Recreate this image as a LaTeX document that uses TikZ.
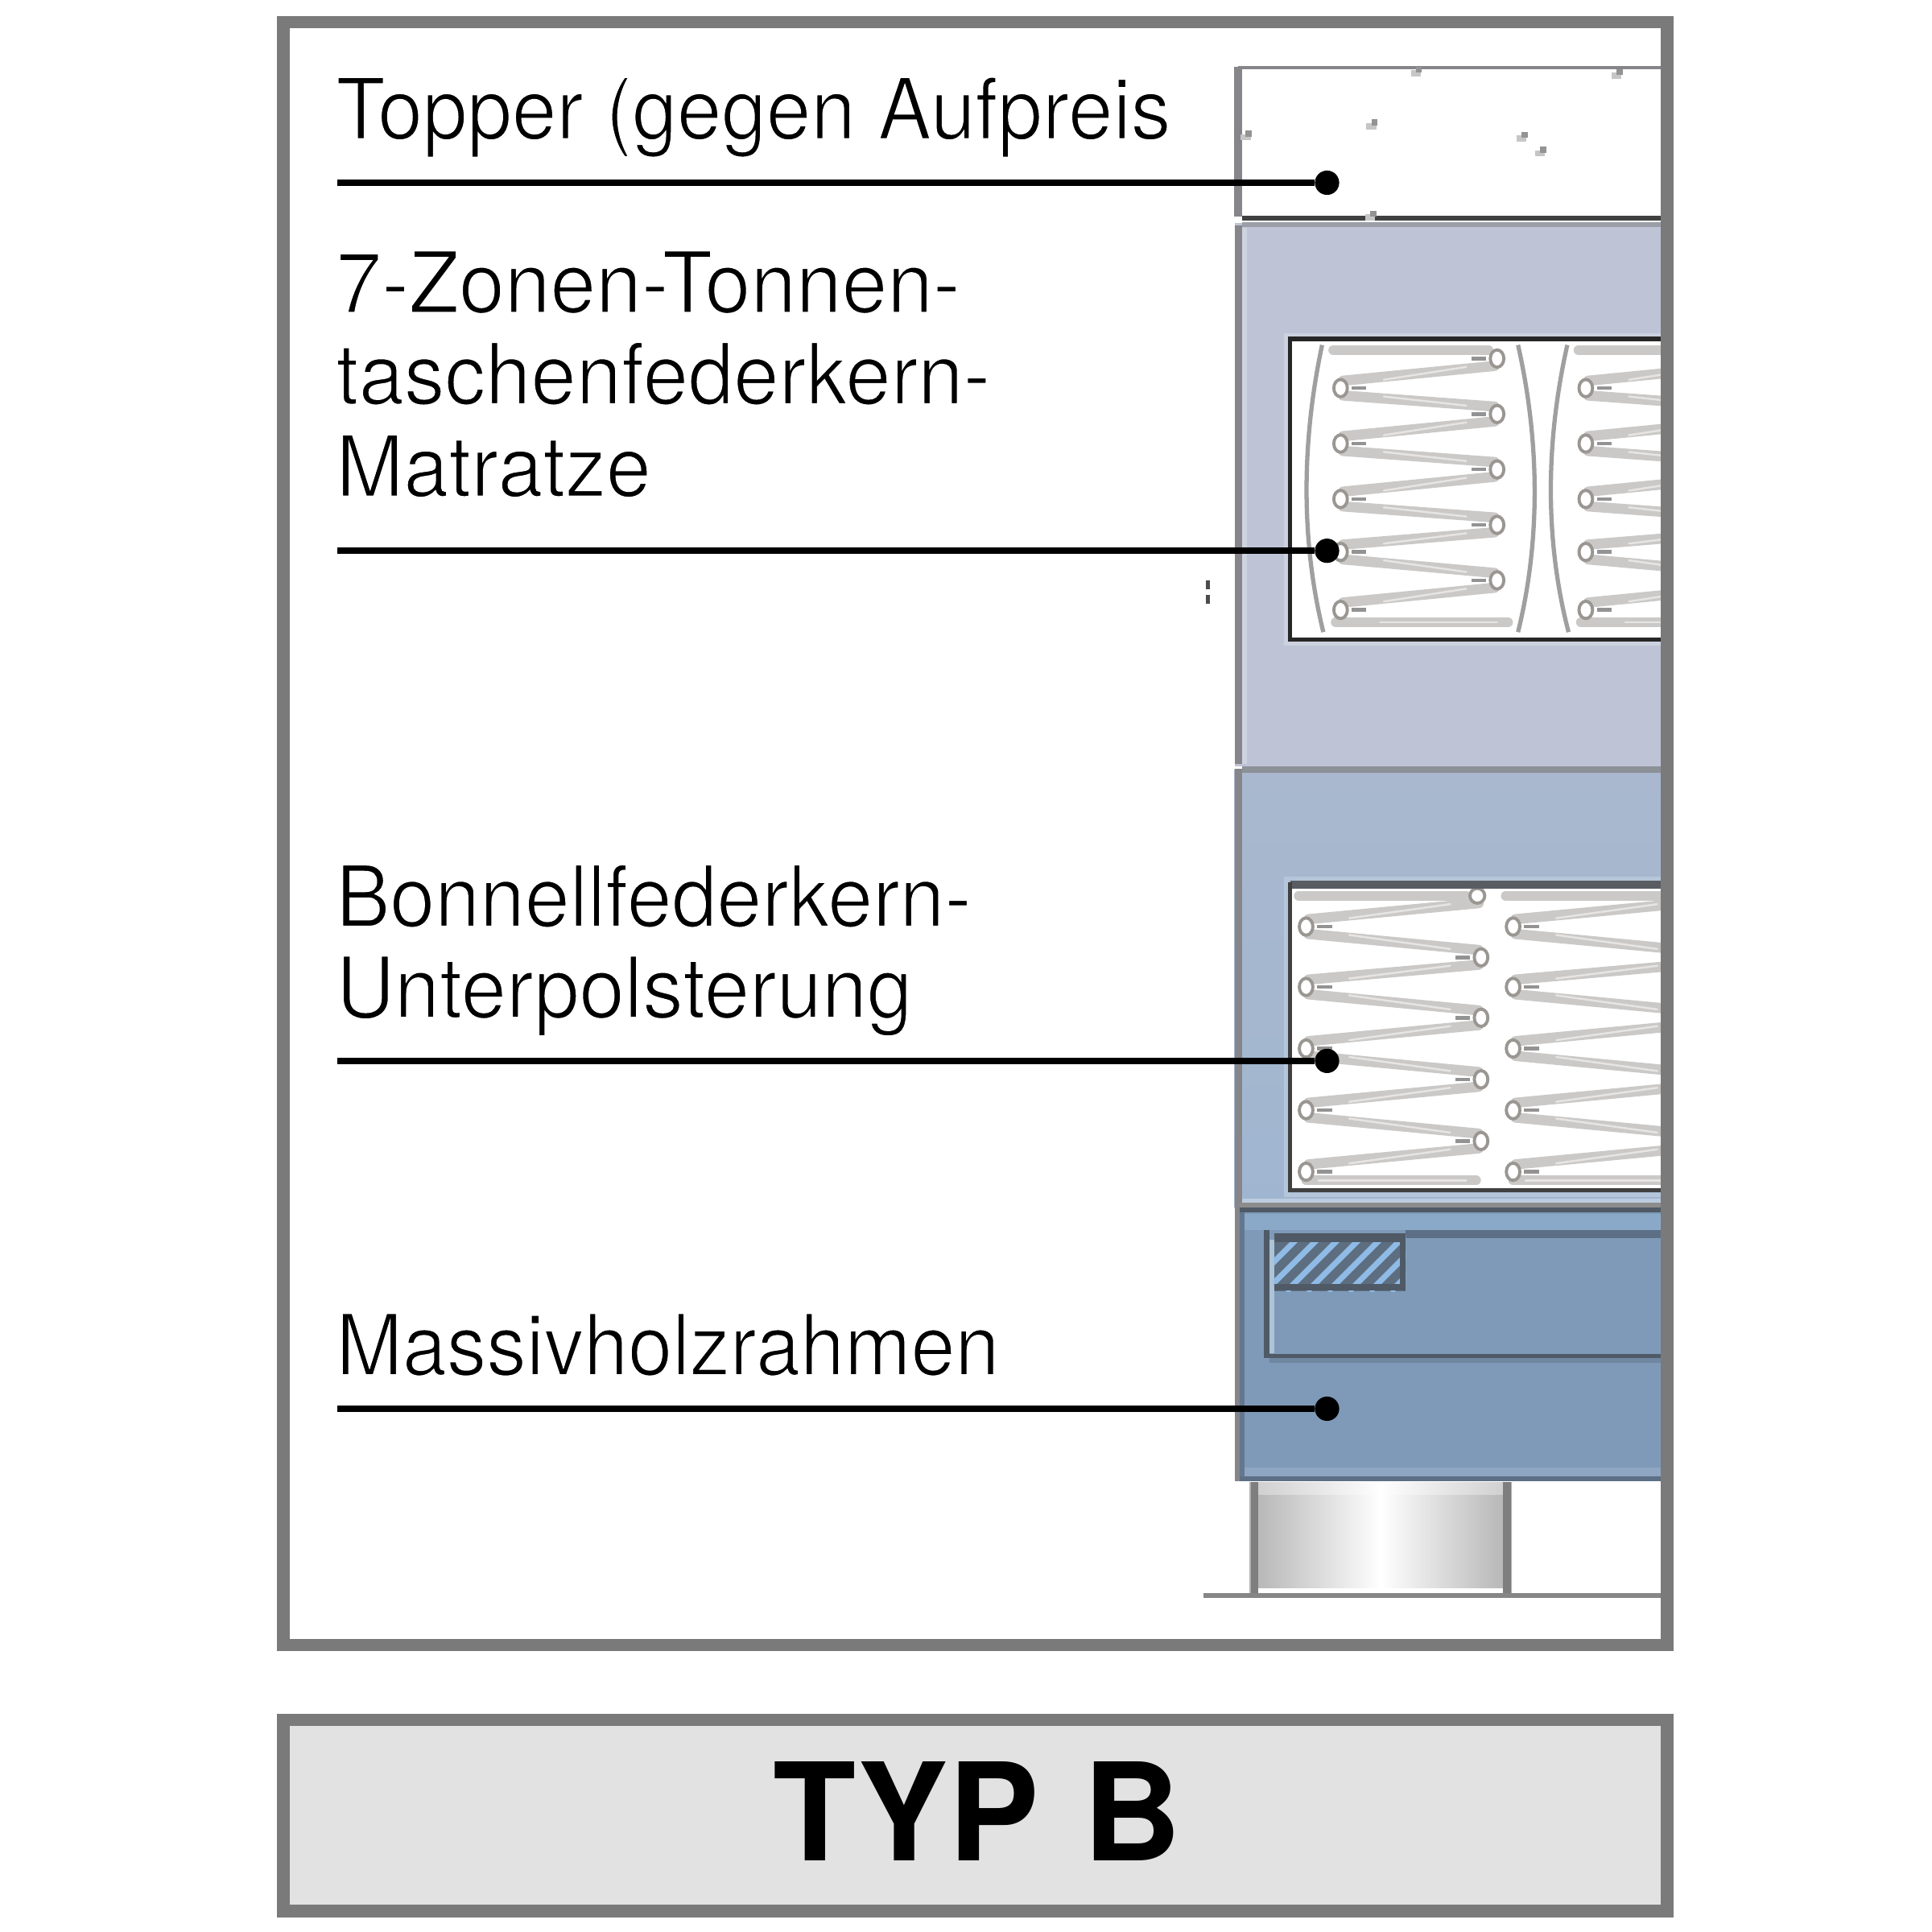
\documentclass[tikz,border=0pt]{standalone}
\usepackage{fontspec}
\setmainfont{TeX Gyre Heros}
\definecolor{framegray}{HTML}{7A7A7A}
\definecolor{boxgray}{HTML}{E2E2E2}
\definecolor{edgegray}{HTML}{85858A}
\definecolor{matblue}{HTML}{BEC4D6}
\definecolor{wiregray}{HTML}{CBC9C7}
\definecolor{wirestreak}{HTML}{E6E5E4}
\definecolor{loopgray}{HTML}{9A9692}
\definecolor{baseA}{HTML}{A9B8CE}
\definecolor{baseB}{HTML}{A0B6D0}
\definecolor{frameblue}{HTML}{7F9AB8}
\definecolor{bandblue}{HTML}{8AA9C8}
\definecolor{darkline}{HTML}{4F5A66}
\definecolor{hatchlight}{HTML}{8FBBE6}
\definecolor{hatchdark}{HTML}{5D6E80}
\definecolor{legedge}{HTML}{7E7E7E}
\definecolor{windowtop}{HTML}{595D63}
\tikzset{
  x=0.0153061cm, y=-0.0153061cm,
  labeltext/.style={anchor=base west, inner sep=0pt, text=black, font=\fontsize{30}{34}\selectfont},
  titletext/.style={anchor=base, inner sep=0pt, text=black, font=\fontsize{48}{52}\selectfont\bfseries},
  leader/.style={draw=black, line width=2.2pt},
  enddot/.style={circle, fill=black, inner sep=0pt, minimum size=8.6pt},
  wire/.style={draw=wiregray, line width=3.6pt, line cap=round},
  wirehi/.style={draw=wirestreak, line width=0.7pt, line cap=round},
  flatwire/.style={draw=wiregray, line width=3.4pt, line cap=round},
  pocket/.style={draw=gray!75, line width=1.5pt},
  loopring/.style={draw=loopgray, fill=white, line width=1.1pt},
  loopdash/.style={draw=gray!85, line width=1.3pt},
  speck/.style={fill=gray!85, draw=none},
  speckb/.style={fill=gray!45, draw=none},
}
% condensed label text, thinned by a white outline on the glyphs
\newcommand{\lbl}[2]{\special{pdf:code q 2 Tr 0.6 w 1 1 1 RG}\scalebox{#1}[1]{#2}\special{pdf:code Q}}
% each strand runs from the near side of one loop to the near side of the next, almost flat
\newcommand{\coilwires}[3]{% xleft, xright, pairs right-y/left-y
  \foreach \ya/\yb in {#3}{
    \pgfmathsetmacro{\sgn}{\ya<\yb ? 1 : -1}
    \pgfmathsetmacro{\yc}{\ya+\sgn*6}
    \pgfmathsetmacro{\yd}{\yb-\sgn*6}
    \draw[wire] ({#2-2},\yc) -- ({#1+2},\yd);
    \draw[wirehi] ({#2-25},{\yc+\sgn*0.8}) -- ({#1+35},{\yd-\sgn*0.8});
  }}
\newcommand{\leftloops}[2]{% x, ys
  \foreach \yy in {#2}{
    \draw[loopring] (#1,\yy) ellipse (5.5 and 7);
    \draw[loopdash] ({#1+9},\yy) -- ({#1+21},\yy);
  }}
\newcommand{\rightloops}[2]{%
  \foreach \yy in {#2}{
    \draw[loopring] (#1,\yy) ellipse (5.5 and 7);
    \draw[loopdash] ({#1-9},\yy) -- ({#1-21},\yy);
  }}
\newcommand{\pocketcoil}[1]{%
  \begin{scope}[xshift=#1*0.0153061cm]
    \draw[flatwire] (1082,284) -- (1208,284);
    \draw[flatwire] (1084,505) -- (1224,505);
    \draw[wirehi] (1120,505) -- (1215,505);
    \coilwires{1088}{1215}{291/315,336/315,336/360,381/360,381/405,426/405,426/448,471/448,471/495}
    \leftloops{1088}{315,360,405,448,495}
    \rightloops{1215}{291,336,381,426,471}
  \end{scope}}
\newcommand{\bonnellcoil}[1]{%
  \begin{scope}[xshift=#1*0.0153061cm]
    \draw[flatwire] (1054,727) -- (1190,727);
    \draw[flatwire] (1060,958) -- (1198,958);
    \draw[wirehi] (1070,958) -- (1190,958);
    \coilwires{1060}{1202}{727/752,777/752,777/801,826/801,826/851,876/851,876/901,926/901,926/951}
    \leftloops{1060}{752,801,851,901,951}
    \rightloops{1202}{777,826,876,926}
  \end{scope}}
\begin{document}
\begin{tikzpicture}
\useasboundingbox (0,0) rectangle (1568,1568);
\fill[white] (0,0) rectangle (1568,1568);

% lower title box
\draw[framegray, line width=4.35pt, fill=boxgray] (230,1396) rectangle (1353,1551);
\node[titletext] (title) at (793,1510) {TYP\hspace{2.2pt} B};

% topper
\fill[white] (1005,56) rectangle (1349,176);
\draw[edgegray, line width=1.3pt] (1349,55) -- (1005,55);
\draw[edgegray, line width=2.8pt] (1005,54) -- (1005,176);
\draw[black!75, line width=1.5pt] (1008,177) -- (1349,177);
\foreach \sx/\sy in {1114/101,1236/111,1251/123,1012/110,1150/58,1313/60,1113/175}{
  \fill[speckb] ({\sx-5},{\sy-1}) rectangle ({\sx+3},{\sy+4});
  \fill[speck] ({\sx-1},{\sy-4}) rectangle ({\sx+4},{\sy+1});
}
\fill[black!70] (979,471) rectangle (982,478);
\fill[black!70] (979,483) rectangle (982,490);

% mattress
\fill[matblue] (1002,181) rectangle (1349,622);
\fill[gray!55!matblue] (1008,180) rectangle (1349,184);
\fill[edgegray] (1002,183) rectangle (1008,620);
\fill[white!25!matblue] (1008,185) rectangle (1012,620);
\draw[white!22!matblue, line width=1.5pt] (1349,272) -- (1044,272) -- (1044,522) -- (1349,522);
\fill[white] (1047,275) rectangle (1349,519);
\begin{scope}
  \clip (1047,275) rectangle (1349,519);
  \draw[pocket] (1073,280) .. controls (1056,360) and (1056,440) .. (1074,513);
  \draw[pocket] (1232,280) .. controls (1250,360) and (1250,440) .. (1232,513);
  \draw[pocket] (1272,280) .. controls (1254,360) and (1254,440) .. (1273,513);
  \pocketcoil{0}
  \pocketcoil{199}
\end{scope}
\draw[black!85, line width=1.6pt] (1349,275) -- (1047,275) -- (1047,519) -- (1349,519);

% box spring
\fill[top color=baseA, bottom color=baseB] (1002,624) rectangle (1349,980);
\fill[edgegray] (1002,624) rectangle (1008,982);
\fill[gray!70!baseA] (1008,622) rectangle (1349,627);
\fill[white!30!baseB] (1008,973) rectangle (1349,977);
\draw[white!22!baseB, line width=1.5pt] (1349,713) -- (1044,713) -- (1044,970) -- (1349,970);
\fill[white] (1047,720) rectangle (1349,966);
\begin{scope}
  \clip (1047,720) rectangle (1349,966);
  \bonnellcoil{0}
  \bonnellcoil{168}
  \draw[loopring] (1199,727) ellipse (6 and 6);
\end{scope}
\fill[windowtop] (1047,715) rectangle (1349,721);
\draw[black!75, line width=1.4pt] (1047,716) -- (1047,966) -- (1349,966);

% frame
\fill[frameblue] (1002,978) rectangle (1349,1202);
\fill[bandblue] (1008,985) rectangle (1349,998);
\fill[edgegray] (1002,978) rectangle (1006,1202);
\fill[black!22!frameblue] (1006,980) rectangle (1010,1202);
\fill[gray!90] (1006,976) rectangle (1349,980);
\fill[darkline] (1006,980) rectangle (1349,984);
\fill[black!28!frameblue] (1006,1198) rectangle (1349,1202);
\fill[white!12!frameblue] (1010,1191) rectangle (1349,1198);
\fill[black!28!frameblue] (1141,998) rectangle (1349,1005);
\fill[darkline] (1026,1099) rectangle (1349,1102);
\fill[black!12!frameblue] (1030,1102) rectangle (1349,1106);
\fill[darkline] (1026,998) rectangle (1030,1102);
\fill[white!30!bandblue] (1030,1006) rectangle (1034,1098);
% hatched beam
\begin{scope}
  \clip (1034,1002) rectangle (1141,1048);
  \fill[hatchdark] (1034,1002) rectangle (1141,1048);
  \foreach \hx in {1010,1027,...,1180}{
    \draw[hatchlight, line width=2pt] (\hx,1048) -- ({\hx+46},1002);
  }
\end{scope}
\fill[darkline] (1034,1001) rectangle (1141,1008);
\fill[darkline] (1034,1042) rectangle (1141,1047.5);
\fill[darkline] (1136,1001) rectangle (1141,1047.5);

% leg
\shade[left color=gray!60, right color=gray!60, middle color=white] (1014,1203) rectangle (1227,1294);
\fill[white, opacity=0.35] (1021,1203) rectangle (1220,1213);
\fill[white] (1021,1289) rectangle (1220,1293);
\fill[legedge] (1015,1203) rectangle (1021,1294);
\fill[legedge] (1220,1203) rectangle (1226,1294);
% floor
\fill[gray!95] (977,1293) rectangle (1349,1297);

% main frame
\draw[framegray, line width=4.35pt] (230,18) rectangle (1353,1335);

% labels
\node[labeltext] (l1) at (272.3,112.8) {\lbl{0.946}{Topper (gegen Aufpreis}};
\node[labeltext] (l2a) at (272.3,253.7) {\lbl{0.966}{7-Zonen-Tonnen-}};
\node[labeltext] (l2b) at (272.3,328) {\lbl{0.96}{taschenfederkern-}};
\node[labeltext] (l2c) at (272.3,402.9) {\lbl{0.955}{Matratze}};
\node[labeltext] (l3a) at (272.3,752) {\lbl{0.952}{Bonnellfederkern-}};
\node[labeltext] (l3b) at (272.3,826) {\lbl{0.958}{Unterpolsterung}};
\node[labeltext] (l4) at (272.3,1116) {\lbl{0.938}{Massivholzrahmen}};

% leaders
\node[enddot] (d1) at (1077,148.3) {};
\node[enddot] (d2) at (1077,447) {};
\node[enddot] (d3) at (1077,861) {};
\node[enddot] (d4) at (1077,1143.3) {};
\coordinate (s1) at (273.8,148.3);
\coordinate (s2) at (273.8,447);
\coordinate (s3) at (273.8,861);
\coordinate (s4) at (273.8,1143.3);
\draw[leader] (s1) -- (d1);
\draw[leader] (s2) -- (d2);
\draw[leader] (s3) -- (d3);
\draw[leader] (s4) -- (d4);
\end{tikzpicture}
\end{document}
